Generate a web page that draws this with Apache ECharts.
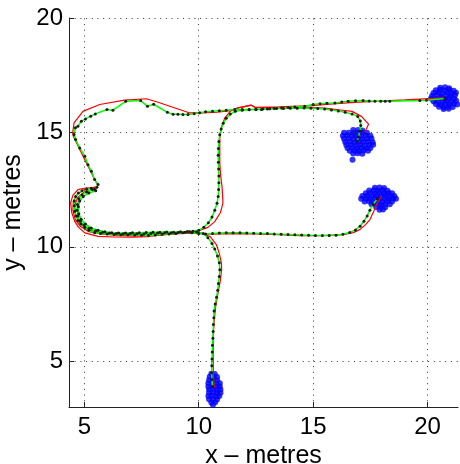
<!DOCTYPE html>
<html><head><meta charset="utf-8">
<script src="https://cdn.jsdelivr.net/npm/echarts@6/dist/echarts.min.js"></script>
<style>html,body{margin:0;padding:0;background:#fff}#c{width:460px;height:464px}</style>
</head><body><div id="c"></div><script>
const xTicks = [5, 10, 15, 20];
const yTicks = [5, 10, 15, 20];
const xRange = [4.33, 21.33];
const yRange = [3, 20];

// estimated path (green, black dots)
const estPath1 = [[10.60,3.90],[10.58,4.20],[10.56,4.50],[10.57,4.80],[10.58,5.10],[10.59,5.40],[10.60,5.70],[10.62,6.00],[10.63,6.30],[10.64,6.60],[10.66,6.90],[10.67,7.20],[10.72,7.50],[10.78,7.80],[10.83,8.10],[10.86,8.40],[10.90,8.70],[10.92,9.00],[10.90,9.30],[10.82,9.60],[10.70,9.90],[10.58,10.15],[10.40,10.40],[10.20,10.58],[9.90,10.65],[9.60,10.66],[9.30,10.62],[9.00,10.58],[8.70,10.56],[8.40,10.55],[8.10,10.52],[7.80,10.50],[7.50,10.51],[7.20,10.52],[6.90,10.53],[6.60,10.53],[6.30,10.54],[6.00,10.56],[5.70,10.58],[5.45,10.62],[5.20,10.72],[5.02,10.85],[4.85,11.00],[4.72,11.15],[4.64,11.35],[4.58,11.55],[4.56,11.80],[4.56,12.00],[4.62,12.20],[4.74,12.35],[4.90,12.45],[5.10,12.52],[5.30,12.56],[5.45,12.52]];
const estPath2 = [[5.55,12.60],[5.35,12.50],[5.10,12.40],[4.90,12.28],[4.76,12.10],[4.70,11.85],[4.68,11.60],[4.72,11.35],[4.82,11.12],[4.98,10.95],[5.20,10.80],[5.50,10.70],[5.80,10.64],[6.10,10.60],[6.40,10.58],[6.70,10.57],[7.00,10.58],[7.30,10.57],[7.60,10.56],[7.90,10.58],[8.20,10.60],[8.50,10.61],[8.80,10.62],[9.10,10.63],[9.40,10.64],[9.70,10.62],[10.00,10.58],[10.30,10.56],[10.60,10.58],[10.90,10.60],[11.20,10.61],[11.50,10.61],[11.80,10.62],[12.10,10.60],[12.40,10.59],[12.70,10.58],[13.00,10.58],[13.30,10.56],[13.60,10.55],[13.90,10.54],[14.20,10.53],[14.50,10.52],[14.80,10.51],[15.10,10.50],[15.40,10.50],[15.70,10.50],[16.00,10.51],[16.30,10.55],[16.60,10.63],[16.85,10.74],[17.05,10.90],[17.22,11.12],[17.36,11.35],[17.48,11.60],[17.62,11.85],[17.80,12.10]];
const estPath3 = [[5.50,12.45],[5.20,12.35],[4.95,12.20],[4.80,12.00],[4.74,11.75],[4.76,11.45],[4.86,11.20],[5.05,11.00],[5.30,10.82],[5.60,10.72],[5.90,10.66],[6.20,10.62],[6.50,10.60],[6.80,10.60],[7.10,10.61],[7.40,10.62],[7.70,10.63],[8.00,10.64],[8.30,10.64],[8.60,10.65],[8.90,10.64],[9.20,10.66],[9.50,10.67],[9.75,10.68],[10.00,10.72],[10.22,10.85],[10.42,11.05],[10.58,11.30],[10.70,11.60],[10.80,11.90],[10.85,12.20],[10.87,12.50],[10.88,12.80],[10.88,13.10],[10.87,13.40],[10.86,13.70],[10.85,14.00],[10.86,14.30],[10.88,14.60],[10.92,14.90],[10.98,15.15],[11.07,15.40],[11.20,15.62],[11.38,15.80],[11.60,15.92],[11.90,15.97],[12.20,15.99],[12.50,16.01],[12.80,16.02],[13.10,16.03],[13.40,16.04],[13.70,16.05],[14.00,16.06],[14.30,16.06],[14.60,16.07],[14.90,16.06],[15.20,16.04],[15.50,16.02],[15.80,15.98],[16.10,15.94],[16.40,15.88],[16.70,15.80],[16.95,15.70],[17.06,15.50],[17.08,15.30],[17.04,15.05],[16.98,14.80],[16.92,14.62]];
const estPath4 = [[5.60,12.72],[5.45,12.94],[5.31,13.30],[5.16,13.59],[5.02,13.96],[4.80,14.32],[4.62,14.69],[4.55,14.91],[4.61,15.20],[4.72,15.27],[4.87,15.49],[5.05,15.59],[5.28,15.71],[5.48,15.81],[5.99,16.00],[6.25,15.97],[6.81,16.36],[7.46,16.39],[7.76,16.14],[8.03,16.23],[8.63,15.88],[8.88,15.79],[9.09,15.79],[9.31,15.78],[9.53,15.78],[9.80,15.82],[10.04,15.86],[10.30,15.90],[10.60,15.92],[10.90,15.95],[11.20,15.97],[11.57,16.00],[11.90,16.00],[12.20,16.00],[12.50,16.00],[12.74,16.00],[13.00,16.02],[13.30,16.04],[13.62,16.07],[13.90,16.09],[14.20,16.11],[14.63,16.14],[15.00,16.22],[15.30,16.25],[15.60,16.27],[15.95,16.29],[16.25,16.33],[16.53,16.36],[16.85,16.38],[17.18,16.39],[17.45,16.37],[17.70,16.36],[17.95,16.36],[18.15,16.36],[18.35,16.36],[19.66,16.39],[19.95,16.41],[20.76,16.48]];

// true path (red)
const truePath1 = [[10.68,3.85],[10.64,4.34],[10.63,5.20],[10.63,6.09],[10.68,6.80],[10.74,7.40],[10.84,7.98],[10.94,8.50],[11.00,9.00],[10.99,9.30],[10.90,9.70],[10.77,10.10],[10.50,10.45],[10.00,10.64],[9.50,10.62],[8.51,10.53],[7.80,10.45],[7.06,10.42],[6.30,10.43],[5.60,10.46],[5.02,10.61],[4.75,10.85],[4.58,11.11],[4.45,11.50],[4.40,11.92],[4.50,12.25],[4.72,12.50],[5.10,12.58],[5.53,12.54]];
const truePath2 = [[5.50,12.62],[5.00,12.50],[4.70,12.30],[4.52,12.00],[4.50,11.60],[4.60,11.20],[4.82,10.90],[5.20,10.66],[5.80,10.55],[6.50,10.50],[7.20,10.48],[8.00,10.50],[8.80,10.55],[9.50,10.60],[10.10,10.58],[10.60,10.55],[11.50,10.58],[12.50,10.57],[13.50,10.53],[14.42,10.49],[15.40,10.49],[16.31,10.53],[16.75,10.62],[17.04,10.75],[17.30,10.98],[17.48,11.19],[17.65,11.55],[17.77,11.85],[17.99,12.21]];
const truePath3 = [[5.45,12.50],[5.00,12.40],[4.70,12.15],[4.58,11.80],[4.62,11.40],[4.78,11.05],[5.10,10.78],[5.60,10.62],[6.30,10.55],[7.00,10.52],[7.80,10.55],[8.60,10.60],[9.40,10.66],[10.00,10.70],[10.40,10.85],[10.70,11.10],[10.95,11.50],[11.06,11.92],[11.02,12.60],[10.95,13.20],[10.92,13.67],[10.92,14.20],[10.92,14.76],[10.98,15.20],[11.14,15.64],[11.40,15.95],[11.72,16.07],[12.30,16.19],[12.45,16.10],[13.00,16.08],[14.00,16.08],[14.93,16.10],[15.60,16.05],[16.20,15.98],[16.70,15.92],[17.11,15.70],[17.42,15.36],[17.25,15.00]];
const truePath4 = [[5.58,12.72],[5.45,12.94],[5.02,13.81],[4.80,14.25],[4.52,14.83],[4.49,14.98],[4.55,15.42],[4.94,15.92],[5.67,16.22],[6.76,16.41],[7.71,16.47],[8.22,16.32],[9.61,15.85],[10.17,15.85],[10.80,15.88],[11.40,15.95],[11.72,16.07],[12.30,16.19],[12.45,16.10],[13.50,16.12],[14.93,16.17],[16.00,16.26],[17.00,16.32],[17.70,16.36],[19.00,16.42],[20.73,16.51]];

// particle clouds (blue)
const cloudTopRight = [[20.55,16.95],[20.76,16.97],[20.94,16.93],[20.36,16.84],[20.54,16.86],[20.74,16.83],[20.96,16.86],[21.14,16.82],[20.26,16.72],[20.46,16.74],[20.64,16.71],[20.86,16.73],[21.04,16.70],[21.24,16.73],[20.20,16.60],[20.41,16.62],[20.60,16.58],[20.81,16.61],[21.00,16.59],[21.20,16.62],[21.35,16.58],[20.15,16.48],[20.34,16.47],[20.55,16.50],[20.76,16.46],[20.95,16.49],[21.16,16.47],[21.36,16.49],[20.26,16.36],[20.45,16.37],[20.66,16.34],[20.85,16.37],[21.05,16.35],[21.25,16.38],[21.38,16.35],[20.36,16.24],[20.55,16.22],[20.76,16.25],[20.95,16.23],[21.15,16.25],[21.30,16.22],[20.50,16.12],[20.71,16.10],[20.90,16.13],[21.10,16.11],[20.70,16.02],[20.92,16.03]];
const cloudMid = [[16.75,15.10],[16.96,15.11],[17.15,15.08],[16.35,14.98],[16.55,14.99],[16.76,14.97],[16.95,14.99],[17.16,14.97],[17.35,14.98],[16.30,14.85],[16.50,14.86],[16.71,14.84],[16.90,14.86],[17.10,14.84],[17.31,14.86],[17.50,14.85],[16.35,14.72],[16.55,14.73],[16.76,14.71],[16.95,14.73],[17.15,14.71],[17.35,14.72],[17.55,14.73],[16.40,14.58],[16.60,14.59],[16.81,14.57],[17.00,14.59],[17.20,14.58],[17.40,14.59],[17.60,14.57],[16.45,14.45],[16.65,14.46],[16.86,14.44],[17.05,14.46],[17.25,14.44],[17.45,14.45],[17.62,14.46],[16.50,14.32],[16.70,14.33],[16.91,14.31],[17.10,14.33],[17.30,14.31],[17.50,14.32],[16.60,14.20],[16.80,14.21],[17.00,14.19],[17.20,14.21],[17.40,14.20],[16.75,14.08],[16.95,14.09],[17.15,14.07],[16.72,13.80]];
const cloudLowRight = [[17.70,12.58],[17.90,12.59],[18.10,12.57],[17.45,12.46],[17.65,12.47],[17.85,12.45],[18.05,12.47],[18.25,12.45],[17.30,12.34],[17.50,12.35],[17.70,12.33],[17.90,12.35],[18.10,12.33],[18.30,12.35],[18.45,12.34],[17.15,12.22],[17.35,12.23],[17.55,12.21],[17.75,12.23],[17.95,12.21],[18.15,12.23],[18.35,12.21],[18.55,12.22],[17.10,12.10],[17.30,12.11],[17.50,12.09],[17.70,12.11],[17.90,12.09],[18.10,12.11],[18.30,12.09],[18.50,12.11],[18.62,12.10],[17.25,11.98],[17.45,11.99],[17.65,11.97],[17.85,11.99],[18.05,11.97],[18.25,11.99],[18.45,11.98],[17.55,11.86],[17.75,11.87],[17.95,11.85],[18.15,11.87],[18.35,11.86],[17.75,11.74],[17.95,11.75],[18.15,11.73],[17.90,11.62],[18.05,11.63]];
const cloudBottom = [[10.55,4.45],[10.70,4.44],[10.48,4.32],[10.65,4.33],[10.80,4.31],[10.45,4.18],[10.62,4.19],[10.80,4.17],[10.42,4.04],[10.60,4.05],[10.78,4.03],[10.92,4.04],[10.42,3.90],[10.60,3.91],[10.78,3.89],[10.92,3.90],[10.45,3.76],[10.62,3.77],[10.80,3.75],[10.95,3.76],[10.45,3.62],[10.62,3.63],[10.80,3.61],[10.95,3.62],[10.42,3.48],[10.60,3.49],[10.78,3.47],[10.90,3.48],[10.45,3.34],[10.62,3.35],[10.80,3.33],[10.55,3.20],[10.72,3.21],[10.62,3.10]];

const FONT = '"Liberation Sans", Arial, Helvetica, sans-serif';
const gridLine = {color: '#333', width: 1, type: [1, 4.7]};

const chart = echarts.init(document.getElementById('c'), null, {renderer: 'canvas'});
const clouds = [cloudTopRight, cloudMid, cloudLowRight, cloudBottom];
const truePaths = [truePath1, truePath2, truePath3, truePath4];
const estPaths = [estPath1, estPath2, estPath3, estPath4];

const series = [];
series.push({
  type: 'line', data: [], silent: true,
  markLine: {
    silent: true, symbol: ['none', 'none'], animation: false,
    label: {show: false}, lineStyle: gridLine, emphasis: {disabled: true},
    data: xTicks.map(v => ({xAxis: v})).concat(yTicks.map(v => ({yAxis: v})))
  }
});
clouds.forEach(c => series.push({
  type: 'scatter', data: c, symbol: 'circle', symbolSize: 6,
  itemStyle: {color: '#0000ff'}, silent: true
}));
truePaths.forEach(p => series.push({
  type: 'line', data: p, showSymbol: false, symbol: 'none',
  lineStyle: {color: '#ff0000', width: 1.2}, silent: true
}));
estPaths.forEach(p => series.push({
  type: 'line', data: p, showSymbol: true, symbol: 'circle', symbolSize: 3,
  itemStyle: {color: '#1a1a1a', borderWidth: 0},
  lineStyle: {color: '#00ff00', width: 1.5}, silent: true
}));

chart.setOption({
  animation: false,
  backgroundColor: '#ffffff',
  grid: {left: 69, top: 18, right: 2, bottom: 57, containLabel: false, outerBoundsMode: 'none'},
  xAxis: {
    type: 'value', min: xRange[0], max: xRange[1],
    name: 'x – metres', nameLocation: 'middle', nameGap: 31,
    nameTextStyle: {fontSize: 25, color: '#000', fontFamily: FONT},
    axisLine: {show: true, onZero: false, lineStyle: {color: '#222', width: 1}},
    axisTick: {show: true, inside: true, length: 5, customValues: xTicks, lineStyle: {color: '#222'}},
    axisLabel: {customValues: xTicks, fontSize: 24, color: '#000', fontFamily: FONT, margin: 8},
    splitLine: {show: false}
  },
  yAxis: {
    type: 'value', min: yRange[0], max: yRange[1],
    name: 'y – metres', nameLocation: 'middle', nameGap: 37,
    nameTextStyle: {fontSize: 25, color: '#000', fontFamily: FONT},
    axisLine: {show: true, onZero: false, lineStyle: {color: '#222', width: 1}},
    axisTick: {show: true, inside: true, length: 5, customValues: yTicks, lineStyle: {color: '#222'}},
    axisLabel: {customValues: yTicks, fontSize: 24, color: '#000', fontFamily: FONT, margin: 6},
    splitLine: {show: false}
  },
  series: series
});
</script></body></html>
